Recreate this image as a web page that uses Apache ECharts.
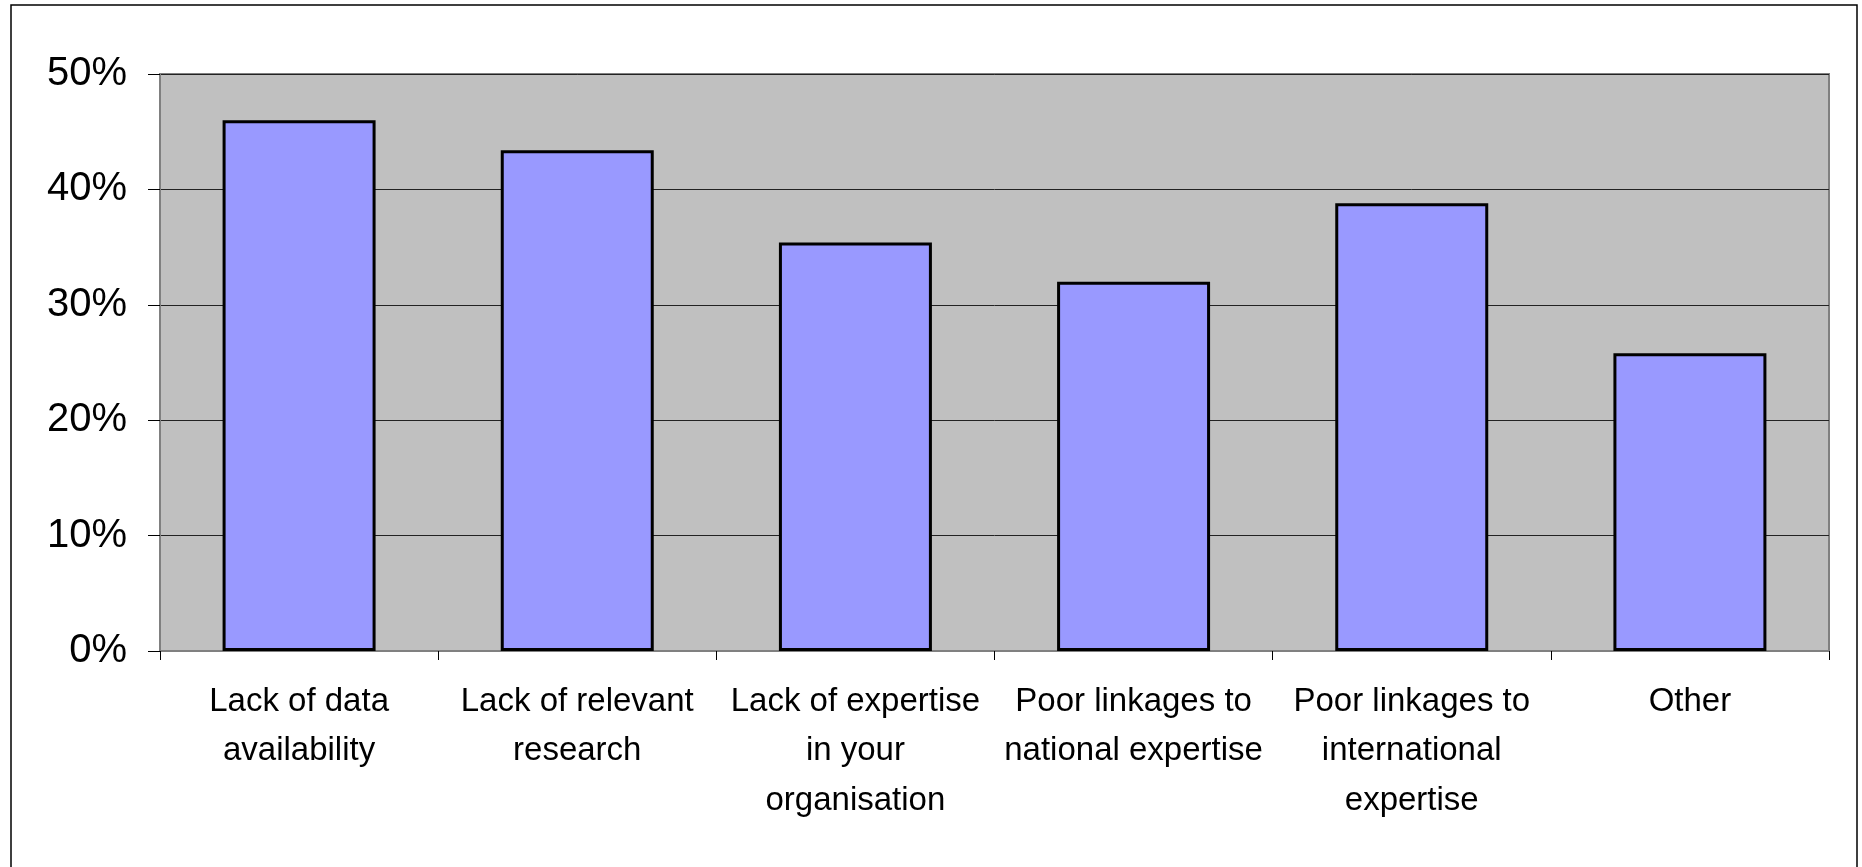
<!DOCTYPE html>
<html>
<head>
<meta charset="utf-8">
<title>Barriers</title>
<script src="https://cdn.jsdelivr.net/npm/echarts@6/dist/echarts.min.js"></script>
<style>
  html, body { margin: 0; padding: 0; background: #fff; }
  #chart { width: 1862px; height: 867px; }
</style>
</head>
<body>
<div id="chart"></div>
<script>
// categories (line breaks as in the picture)
const categories = [
  'Lack of data\navailability',
  'Lack of relevant\nresearch',
  'Lack of expertise\nin your\norganisation',
  'Poor linkages to\nnational expertise',
  'Poor linkages to\ninternational\nexpertise',
  'Other'
]
// share of answers, in %
const shares = [46.0, 43.4, 35.4, 32.0, 38.8, 25.8]
const yTicks = [0, 10, 20, 30, 40, 50]

const chart = echarts.init(document.getElementById('chart'))

const option = {
  animation: false,
  textStyle: { fontFamily: 'Liberation Sans, Arial, sans-serif' },
  // outer frame of the chart
  graphic: [{
    type: 'rect',
    shape: { x: 11, y: 5, width: 1846, height: 900 },
    style: { fill: 'none', stroke: '#000', lineWidth: 1.5 },
    silent: true
  }],
  grid: {
    left: 160,
    top: 74,
    right: 33,
    bottom: 216,
    outerBoundsMode: 'none',
    show: true,
    backgroundColor: '#C0C0C0',
    borderColor: '#808080',
    borderWidth: 2
  },
  xAxis: {
    type: 'category',
    data: categories,
    axisLine: { lineStyle: { color: '#808080', width: 2 } },
    axisTick: { show: true, length: 9, lineStyle: { color: '#000', width: 1 } },
    axisLabel: {
      interval: 0,
      margin: 26,
      color: '#000',
      fontSize: 33,
      lineHeight: 49.5
    }
  },
  yAxis: {
    type: 'value',
    min: yTicks[0],
    max: yTicks[yTicks.length - 1],
    interval: yTicks[1] - yTicks[0],
    axisLine: { show: true, lineStyle: { color: '#808080', width: 2 } },
    axisTick: { show: true, length: 12, lineStyle: { color: '#000', width: 1 } },
    axisLabel: {
      formatter: '{value}%',
      margin: 33,
      color: '#000',
      fontSize: 40
    },
    splitLine: { lineStyle: { color: '#222', width: 1 } }
  },
  series: [{
    type: 'bar',
    data: shares,
    barWidth: '55%',
    itemStyle: {
      color: '#9999FF',
      borderColor: '#000',
      borderWidth: 3
    },
    emphasis: { disabled: true }
  }]
}

chart.setOption(option)
</script>
</body>
</html>
